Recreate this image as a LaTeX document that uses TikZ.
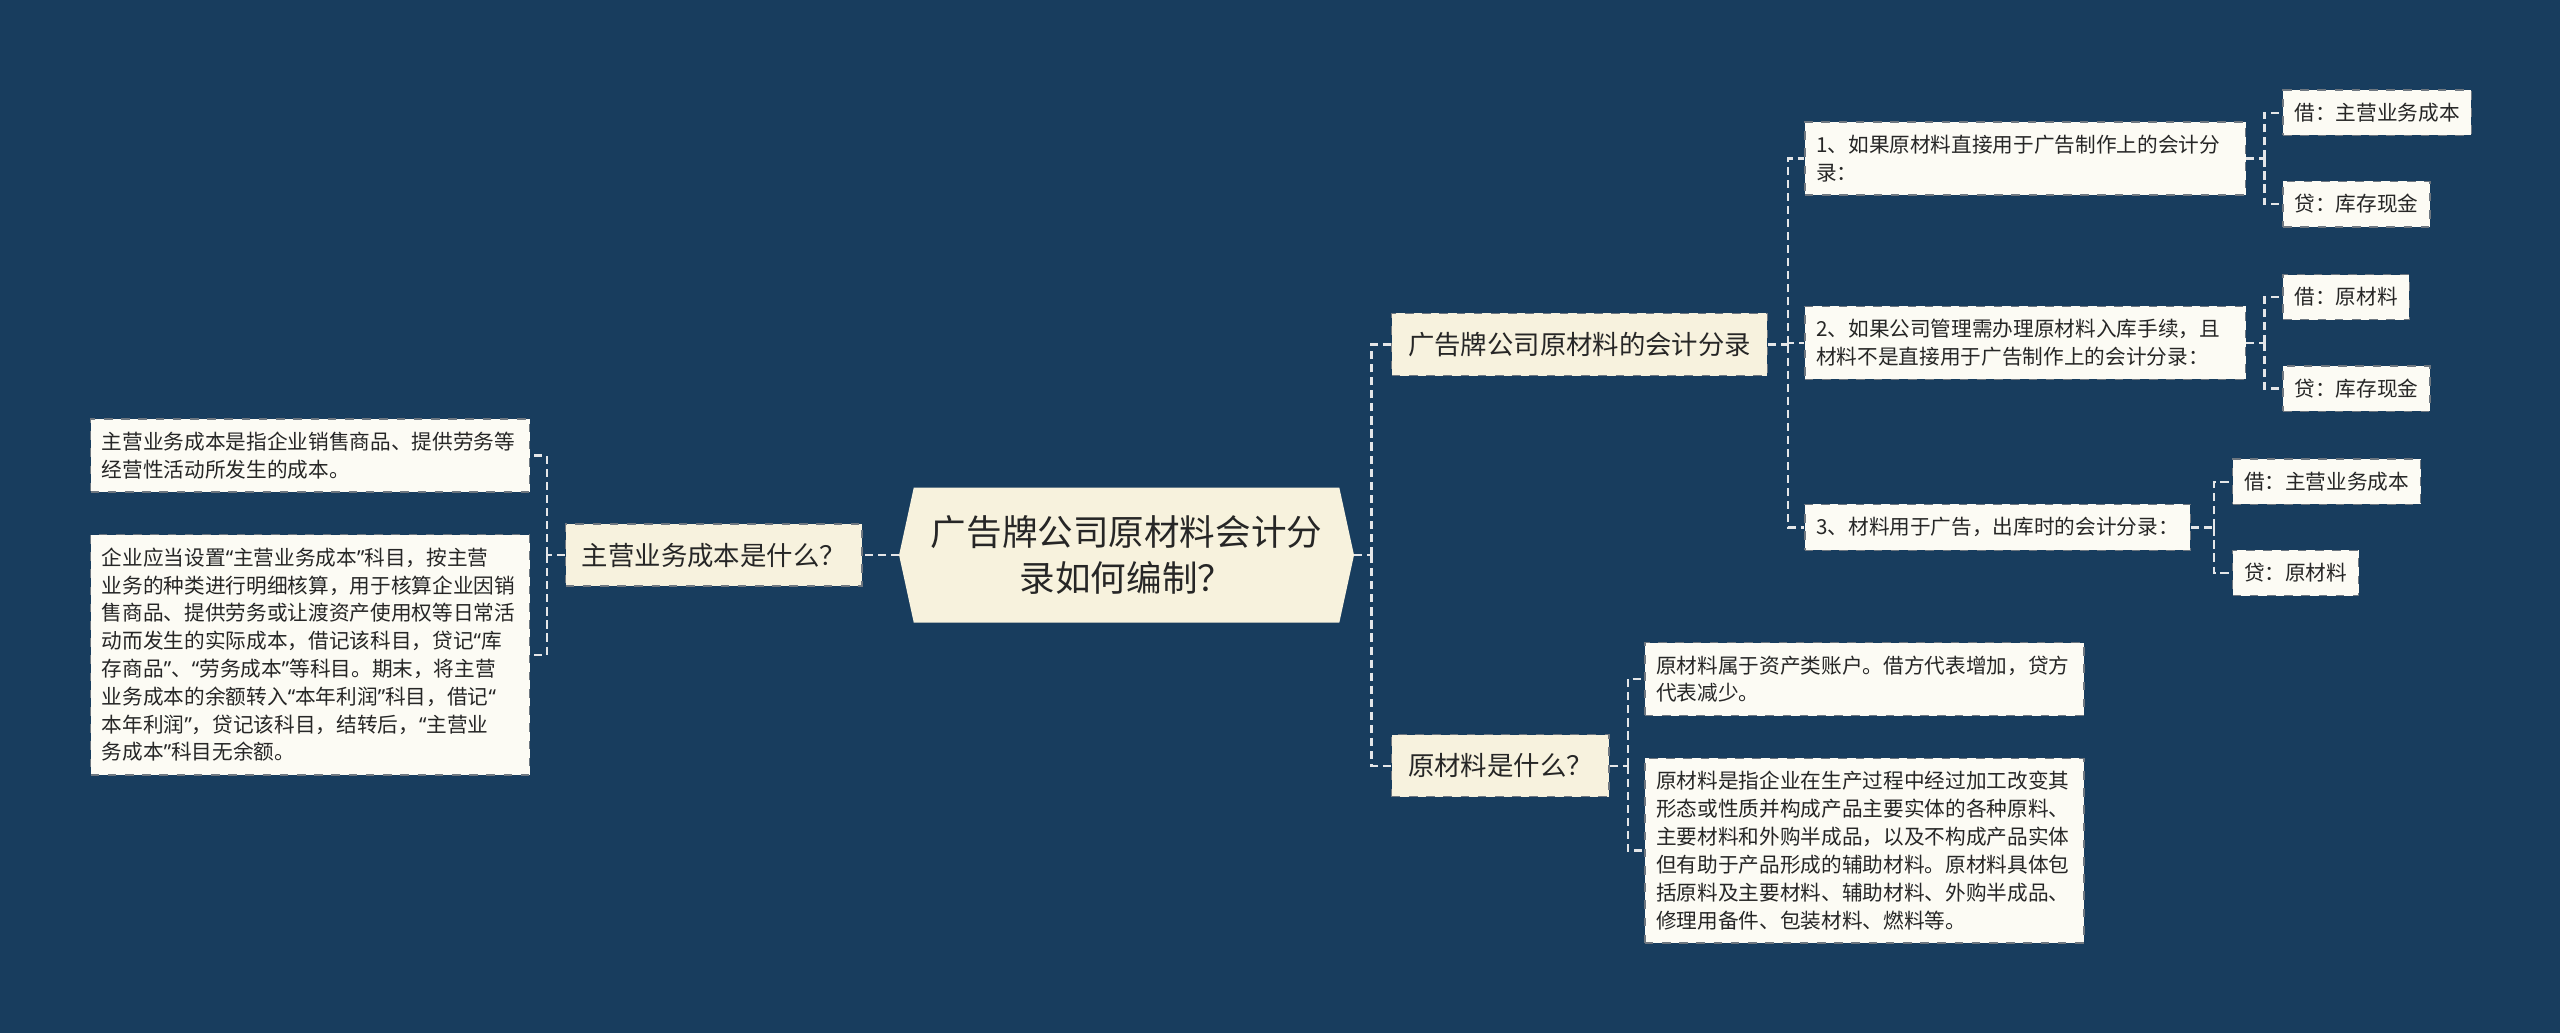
\documentclass[tikz,border=0pt]{standalone}
\usepackage{fontspec}
\newfontfamily\cjk{Noto Sans CJK SC}
\newfontfamily\qfont{Noto Sans}
\newcommand\oq{{\qfont “}}
\newcommand\cq{{\qfont ”}}
\usepackage{tikz}
\usetikzlibrary{positioning,backgrounds}
\definecolor{bgblue}{HTML}{183D5E}
\definecolor{rootbg}{HTML}{F7F2DD}
\definecolor{topicbg}{HTML}{F7F2DE}
\definecolor{leafbg}{HTML}{FCFBF4}
\definecolor{edgegray}{HTML}{6E7780}
\definecolor{linkc}{HTML}{E4E6E8}
\definecolor{txt}{HTML}{262626}
\tikzset{
  topic/.style={draw=edgegray,dashed,line width=0.5pt,fill=topicbg,text=txt,anchor=west,
    font=\cjk\fontsize{9.2}{12}\selectfont,inner xsep=0.2cm,minimum height=0.76cm},
  leaf/.style={draw=edgegray,dashed,line width=0.5pt,fill=leafbg,text=txt,anchor=west,align=left,
    font=\cjk\fontsize{7.2}{9.7}\selectfont,inner xsep=0.14cm,inner ysep=0.16cm,minimum height=0.52cm},
  link/.style={draw=linkc,line width=0.8pt,dash pattern=on 0.1cm off 0.06cm},
}

\begin{document}
\begin{tikzpicture}[x=0.02cm,y=-0.02cm]
  \useasboundingbox (0,0) rectangle (1568,633);
  \begin{pgfonlayer}{background}
    \fill[bgblue] (0,0) rectangle (1568,633);
  \end{pgfonlayer}
  \node[text=txt,align=center,font=\cjk\fontsize{12.4}{16}\selectfont,minimum width=5.56cm,minimum height=1.64cm] (root) at (690,340) {广告牌公司原材料会计分\\录如何编制？};
  \begin{pgfonlayer}{background}
    \fill[rootbg] (root.west) -- ([xshift=0.18cm]root.north west) -- ([xshift=-0.18cm]root.north east) -- (root.east)
      -- ([xshift=-0.18cm]root.south east) -- ([xshift=0.18cm]root.south west) -- cycle;
  \end{pgfonlayer}

  \node[topic] (q1) at (346,340) {主营业务成本是什么？};
  \node[leaf,text width=5.1cm] (l1) at (55,279) {主营业务成本是指企业销售商品、提供劳务等\\经营性活动所发生的成本。};
  \node[leaf,text width=5.1cm] (l2) at (55,401) {企业应当设置\oq 主营业务成本\cq 科目，按主营\\业务的种类进行明细核算，用于核算企业因销\\售商品、提供劳务或让渡资产使用权等日常活\\动而发生的实际成本，借记该科目，贷记\oq 库\\存商品\cq 、\oq 劳务成本\cq 等科目。期末，将主营\\业务成本的余额转入\oq 本年利润\cq 科目，借记\oq\\本年利润\cq ，贷记该科目，结转后，\oq 主营业\\务成本\cq 科目无余额。};

  \node[topic] (t1) at (852,211) {广告牌公司原材料的会计分录};
  \node[topic] (t2) at (852,469) {原材料是什么？};

  \node[leaf,text width=5.12cm] (a1) at (1105,97) {1、如果原材料直接用于广告制作上的会计分\\录：};
  \node[leaf,text width=5.12cm] (a2) at (1105,210) {2、如果公司管理需办理原材料入库手续，且\\材料不是直接用于广告制作上的会计分录：};
  \node[leaf] (a3) at (1105,323) {3、材料用于广告，出库时的会计分录：};

  \node[leaf] (a1d) at (1398,69) {借：主营业务成本};
  \node[leaf] (a1c) at (1398,125) {贷：库存现金};
  \node[leaf] (a2d) at (1398,182) {借：原材料};
  \node[leaf] (a2c) at (1398,238) {贷：库存现金};
  \node[leaf] (a3d) at (1367,295) {借：主营业务成本};
  \node[leaf] (a3c) at (1367,351) {贷：原材料};

  \node[leaf,text width=5.1cm] (b1) at (1007,416) {原材料属于资产类账户。借方代表增加，贷方\\代表减少。};
  \node[leaf,text width=5.1cm] (b2) at (1007,521) {原材料是指企业在生产过程中经过加工改变其\\形态或性质并构成产品主要实体的各种原料、\\主要材料和外购半成品，以及不构成产品实体\\但有助于产品形成的辅助材料。原材料具体包\\括原料及主要材料、辅助材料、外购半成品、\\修理用备件、包装材料、燃料等。};

  \coordinate (lfork) at (335,340);
  \coordinate (rfork) at (840,340);
  \coordinate (t1fork) at (1095,211);
  \coordinate (t2fork) at (997,469);
  \coordinate (a1fork) at (1387,97);
  \coordinate (a2fork) at (1387,210);
  \coordinate (a3fork) at (1356,323);

  \draw[link] (root.west) -- (q1.east);
  \draw[link] (q1.west) -- (lfork);
  \draw[link] (lfork) |- (l1.east);
  \draw[link] (lfork) |- (l2.east);

  \draw[link] (root.east) -- (rfork);
  \draw[link] (rfork) |- (t1.west);
  \draw[link] (rfork) |- (t2.west);

  \draw[link] (t1.east) -- (t1fork);
  \draw[link] (t1fork) |- (a1.west);
  \draw[link] (t1fork) |- (a2.west);
  \draw[link] (t1fork) |- (a3.west);

  \draw[link] (a1.east) -- (a1fork);
  \draw[link] (a1fork) |- (a1d.west);
  \draw[link] (a1fork) |- (a1c.west);
  \draw[link] (a2.east) -- (a2fork);
  \draw[link] (a2fork) |- (a2d.west);
  \draw[link] (a2fork) |- (a2c.west);
  \draw[link] (a3.east) -- (a3fork);
  \draw[link] (a3fork) |- (a3d.west);
  \draw[link] (a3fork) |- (a3c.west);

  \draw[link] (t2.east) -- (t2fork);
  \draw[link] (t2fork) |- (b1.west);
  \draw[link] (t2fork) |- (b2.west);
\end{tikzpicture}
\end{document}
